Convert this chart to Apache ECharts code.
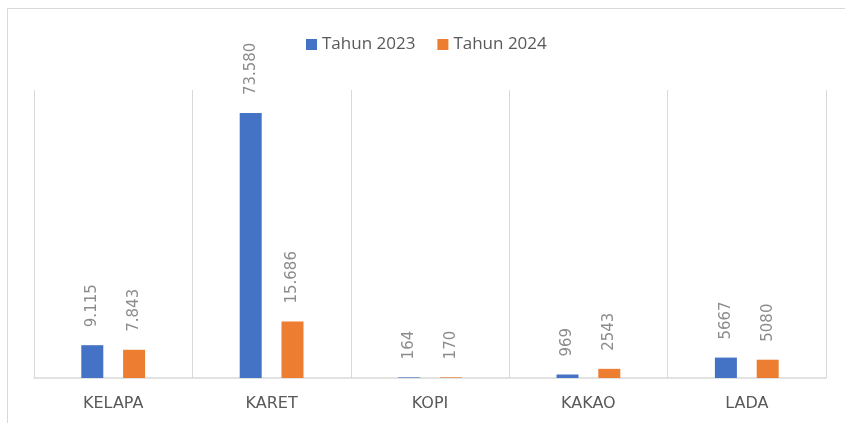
<!DOCTYPE html>
<html>
<head>
<meta charset="utf-8">
<script src="https://cdn.jsdelivr.net/npm/echarts@6/dist/echarts.min.js"></script>
<style>
  html, body { margin: 0; padding: 0; background: #fff; }
  #chart { width: 845px; height: 423px; }
</style>
</head>
<body>
<div id="chart"></div>
<script>
// komoditas perkebunan
var categories = ['KELAPA', 'KARET', 'KOPI', 'KAKAO', 'LADA']
var tahun2023 = [9115, 73580, 164, 969, 5667]
var tahun2024 = [7843, 15686, 170, 2543, 5080]
// label as printed on the chart
var label2023 = ['9.115', '73.580', '164', '969', '5667']
var label2024 = ['7.843', '15.686', '170', '2543', '5080']

var labelStyle = function (texts) {
    return {
        show: true,
        position: 'top',
        rotate: 90,
        align: 'left',
        verticalAlign: 'middle',
        distance: 18,
        color: '#8c8c8c',
        fontFamily: 'DejaVu Sans',
        fontSize: 15,
        formatter: function (p) { return texts[p.dataIndex] }
    }
}

var chart = echarts.init(document.getElementById('chart'))
chart.setOption({
    animation: false,
    graphic: [{
        type: 'rect',
        shape: { x: 7.5, y: 8.5, width: 900, height: 500 },
        style: { fill: 'none', stroke: '#d9d9d9', lineWidth: 1 },
        silent: true
    }],
    legend: {
        left: 301,
        top: 31,
        itemWidth: 11,
        itemHeight: 11,
        itemGap: 22,
        icon: 'rect',
        textStyle: { fontFamily: 'Open Sans', fontSize: 17, color: '#595959' },
        data: ['Tahun 2023', 'Tahun 2024']
    },
    grid: { left: 34, right: 19, top: 90, bottom: 45 },
    xAxis: {
        type: 'category',
        data: categories,
        axisLine: { lineStyle: { color: '#d9d9d9', width: 1.5 } },
        axisTick: { show: false },
        splitLine: { show: true, lineStyle: { color: '#d9d9d9' } },
        axisLabel: {
            margin: 18,
            color: '#595959',
            fontFamily: 'DejaVu Sans',
            fontSize: 16
        }
    },
    yAxis: {
        type: 'value',
        min: 0,
        max: 80000,
        show: false,
        splitLine: { show: false }
    },
    series: [
        {
            name: 'Tahun 2023',
            type: 'bar',
            barWidth: 22,
            barGap: '90%',
            itemStyle: { color: '#4472c4' },
            label: labelStyle(label2023),
            data: tahun2023
        },
        {
            name: 'Tahun 2024',
            type: 'bar',
            barWidth: 22,
            barGap: '90%',
            itemStyle: { color: '#ed7d31' },
            label: labelStyle(label2024),
            data: tahun2024
        }
    ]
})
</script>
</body>
</html>
